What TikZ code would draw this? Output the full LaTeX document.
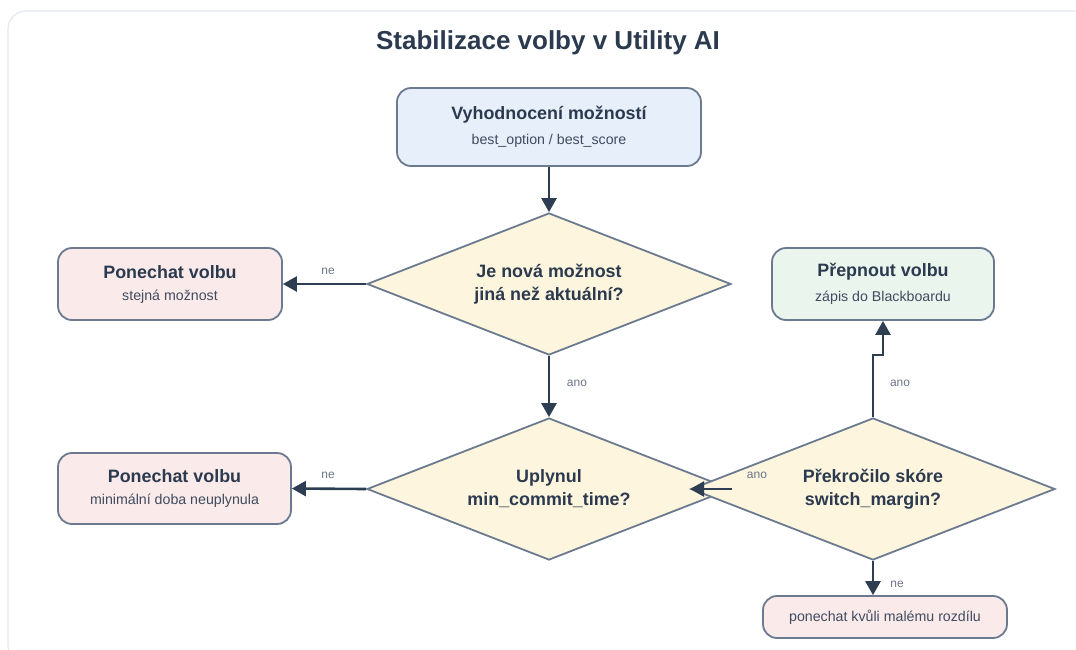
\documentclass[tikz,border=0pt]{standalone}
\usepackage{fontspec}
\setmainfont{Liberation Sans}
\usetikzlibrary{shapes.geometric,arrows.meta,positioning}
\definecolor{ink}{HTML}{2B3A4E}
\definecolor{subink}{HTML}{3F4B5E}
\definecolor{muted}{HTML}{6B7688}
\definecolor{edge}{HTML}{6C7A90}
\definecolor{wire}{HTML}{2D3E52}
\definecolor{frame}{HTML}{E2E8EF}
\definecolor{bluefill}{HTML}{E7F0FA}
\definecolor{pinkfill}{HTML}{FBEAEA}
\definecolor{greenfill}{HTML}{EAF5EE}
\definecolor{creamfill}{HTML}{FDF5DE}
\newcommand{\headfont}{\bfseries\fontsize{17.9}{23}\selectfont}
\newcommand{\subfont}{\fontsize{14.2}{17}\selectfont\color{subink}}

\begin{document}
\begin{tikzpicture}[x = 1pt, y = -1pt]
        \tikzset{box/.style      = {draw = edge, line width = 1.8pt,
                                    rounded corners = 14pt, align = center,
                                    text = ink, inner sep = 0pt},
                 question/.style = {diamond, aspect = 2.56, draw = edge, line width = 1.8pt,
                                    fill = creamfill, align = center, text = ink,
                                    inner sep = 0pt, minimum width = 364pt,
                                    minimum height = 142pt, font = \headfont},
                 flow/.style     = {draw = wire, line width = 2.6pt,
                                    -{Triangle[length = 14pt, width = 15pt]}},
                 answer/.style   = {text = muted, font = \fontsize{12}{14}\selectfont}}
        \useasboundingbox (0,0) rectangle (1076,649);
        \draw[frame, line width = 1.2pt, rounded corners = 18pt] (8,11) rectangle (1094,664);
        \node[text = ink, font = \bfseries\fontsize{26}{30}\selectfont] (title) at (548,43)
             {Stabilizace volby v Utility AI};
        % hlavni vetev
        \node[box, fill = bluefill, minimum width = 304pt, minimum height = 78pt] (eval) at (549,127)
             {\headfont Vyhodnocení možností\\[10pt]\subfont best\_option / best\_score};
        \node[question] (differs) at (549,284) {Je nová možnost\\jiná než aktuální?};
        \node[question] (elapsed) at (549,489) {Uplynul\\min\_commit\_time?};
        \node[question] (margin) at (873,489) {Překročilo skóre\\switch\_margin?};
        % vysledky
        \node[box, fill = pinkfill, minimum width = 224pt, minimum height = 72pt] (keepsame) at (170,284)
             {\headfont Ponechat volbu\\[10pt]\subfont stejná možnost};
        \node[box, fill = pinkfill, minimum width = 233pt, minimum height = 71pt] (keeptime) at (174.5,488.5)
             {\headfont Ponechat volbu\\[10pt]\subfont minimální doba neuplynula};
        \node[box, fill = greenfill, minimum width = 222pt, minimum height = 72pt] (switch) at (883,284)
             {\headfont Přepnout volbu\\[10pt]\subfont zápis do Blackboardu};
        \node[box, fill = pinkfill, minimum width = 244pt, minimum height = 42pt] (keepsmall) at (885,617)
             {\subfont ponechat kvůli malému rozdílu};
        % spojnice
        \draw[flow] (eval) -- (differs);
        \draw[flow] (differs.west) -- (keepsame.east);
        \draw[flow] (differs.south) -- (elapsed.north);
        \draw[flow] (elapsed.west) -- (keeptime.east);
        \draw[flow] (elapsed.east) -- (margin.west);
        \draw[flow] (margin.north) -- ++(0,-62) -| (switch.south);
        \draw[flow] (margin.south) -- (margin.south |- keepsmall.north);
        \node[answer] (noA)  at (328,271) {ne};
        \node[answer] (yesA) at (577,383) {ano};
        \node[answer] (noB)  at (328,475) {ne};
        \node[answer] (yesB) at (757,475) {ano};
        \node[answer] (yesC) at (900,383) {ano};
        \node[answer] (noC)  at (897,584) {ne};
      \end{tikzpicture}
\end{document}
